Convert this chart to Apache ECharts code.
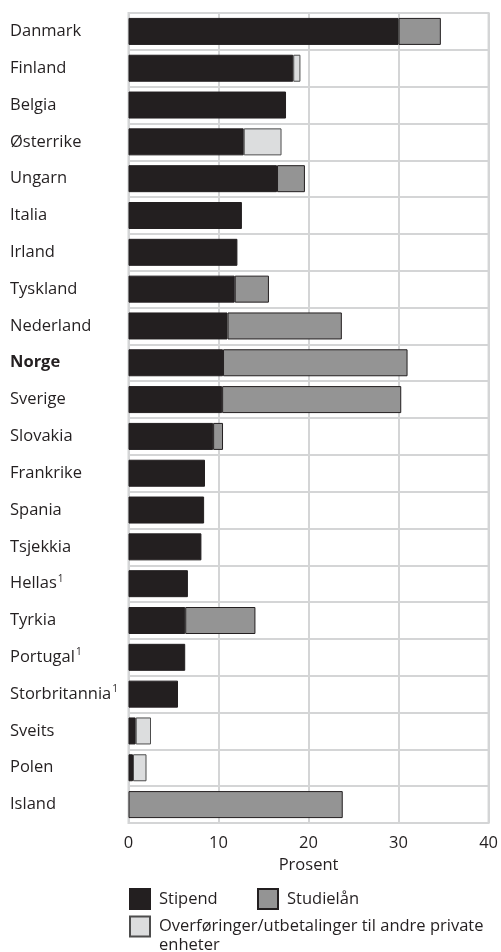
<!DOCTYPE html>
<html>
<head>
<meta charset="utf-8">
<script src="https://cdn.jsdelivr.net/npm/echarts@6/dist/echarts.min.js"></script>
<style>html,body{margin:0;padding:0;background:#fff}#c{width:501px;height:952px}</style>
</head>
<body>
<div id="c"></div>
<script>
const categories = ['Danmark','Finland','Belgia','Østerrike','Ungarn','Italia','Irland','Tyskland','Nederland','Norge','Sverige','Slovakia','Frankrike','Spania','Tsjekkia','Hellas','Tyrkia','Portugal','Storbritannia','Sveits','Polen','Island'];
const footnoted = ['Hellas','Portugal','Storbritannia'];
const highlighted = ['Norge'];
const stipend    = [30.0,18.3,17.5,12.8,16.5,12.6,12.1,11.8,11.0,10.5,10.4,9.4,8.5,8.4,8.1,6.6,6.3,6.3,5.5,0.8,0.5,null];
const studielan  = [4.7,null,null,null,3.1,null,null,3.8,12.7,20.5,19.9,1.1,null,null,null,null,7.8,null,null,null,null,23.8];
const overforing = [null,0.8,null,4.2,null,null,null,null,null,null,null,null,null,null,null,null,null,null,null,1.7,1.5,null];
const seriesNames = ['Stipend','Studielån','Overføringer/utbetalinger til andre private enheter'];
const xTicks = [0,10,20,30,40];

const FONT = '"Open Sans", sans-serif';
const FS = 16.5;
const TXT = '#231f20';
const GRID = '#d4d5d6';
const colors = ['#231f20','#949494','#dcddde'];

const chart = echarts.init(document.getElementById('c'), null, {renderer:'canvas'});
const mk = (name, data, color) => ({
  name, type:'bar', stack:'t', data, barWidth:27,
  itemStyle:{color, borderColor:'#231f20', borderWidth:1},
  emphasis:{disabled:true}
});
const legendBase = {itemWidth:20, itemHeight:20, selectedMode:false, icon:'rect', padding:0};
chart.setOption({
  animation:false,
  textStyle:{fontFamily:FONT},
  grid:{left:128.5, right:9.5, top:13, bottom:129, show:true, borderColor:GRID, borderWidth:2},
  xAxis:{
    type:'value', min:xTicks[0], max:xTicks[xTicks.length-1], interval:10,
    axisLine:{show:false}, axisTick:{show:false},
    splitLine:{show:true, lineStyle:{color:GRID, width:2}},
    axisLabel:{color:TXT, fontSize:FS, margin:12, fontFamily:FONT},
    name:'Prosent', nameLocation:'middle', nameGap:31,
    nameTextStyle:{color:TXT, fontSize:FS, fontFamily:FONT}
  },
  yAxis:{
    type:'category', data:categories, inverse:true,
    axisLine:{show:false}, axisTick:{show:false},
    splitLine:{show:true, interval:0, lineStyle:{color:GRID, width:2}},
    axisLabel:{
      align:'left', margin:118.5, color:TXT, fontSize:FS, fontFamily:FONT, interval:0,
      formatter:(v)=> highlighted.includes(v) ? '{b|'+v+'}' : (footnoted.includes(v) ? '{n|'+v+'}{s|1}' : '{n|'+v+'}'),
      rich:{
        n:{fontSize:FS, color:TXT, fontFamily:FONT, lineHeight:20},
        b:{fontSize:FS, color:TXT, fontFamily:FONT, fontWeight:'bold', lineHeight:20},
        s:{fontSize:10, color:TXT, fontFamily:FONT, verticalAlign:'top', lineHeight:12, padding:[0,0,0,1]}
      }
    }
  },
  legend:[
    Object.assign({data:[seriesNames[0]], left:129, top:888,
     textStyle:{color:TXT, fontSize:FS, fontFamily:FONT, padding:[0,0,0,4]}}, legendBase),
    Object.assign({data:[seriesNames[1]], left:257, top:888,
     textStyle:{color:TXT, fontSize:FS, fontFamily:FONT, padding:[0,0,0,4]}}, legendBase),
    Object.assign({data:[seriesNames[2]], left:129, top:898,
     formatter:(n)=>'\n'+n.replace(' enheter','\nenheter'),
     textStyle:{color:TXT, fontSize:FS, fontFamily:FONT, lineHeight:19, padding:[0,0,0,4]}}, legendBase)
  ],
  series:[
    mk(seriesNames[0], stipend, colors[0]),
    mk(seriesNames[1], studielan, colors[1]),
    Object.assign(mk(seriesNames[2], overforing, colors[2]), {itemStyle:{color:colors[2], borderColor:'#4d4d4d', borderWidth:1}})
  ]
});
</script>
</body>
</html>
